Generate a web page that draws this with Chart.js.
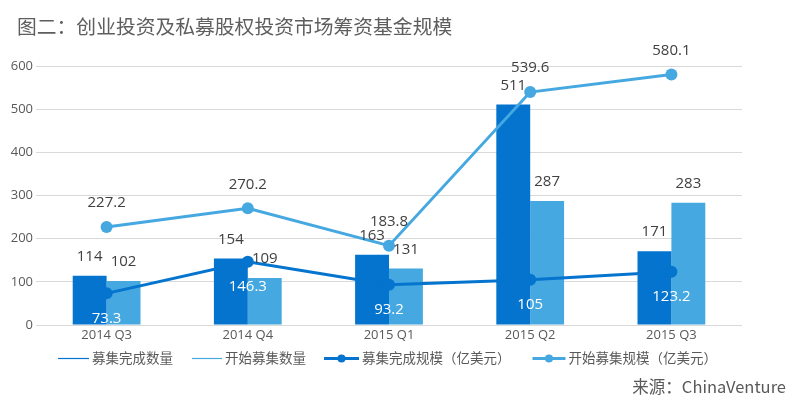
<!DOCTYPE html>
<html>
<head>
<meta charset="utf-8">
<script src="https://cdn.jsdelivr.net/npm/chart.js@4.4.0/dist/chart.umd.min.js"></script>
<style>
html,body{margin:0;padding:0;background:#fff;}
#wrap{width:800px;height:408px;position:relative;}
</style>
</head>
<body>
<div id="wrap"><canvas id="c" width="800" height="408"></canvas></div>
<script>
const categories = ['2014 Q3', '2014 Q4', '2015 Q1', '2015 Q2', '2015 Q3'];
const completedCount = [114, 154, 163, 511, 171];
const startedCount = [102, 109, 131, 287, 283];
const completedSize = [73.3, 146.3, 93.2, 105, 123.2];
const startedSize = [227.2, 270.2, 183.8, 539.6, 580.1];
const yTicks = [0, 100, 200, 300, 400, 500, 600];
const seriesNames = ['募集完成数量', '开始募集数量', '募集完成规模（亿美元）', '开始募集规模（亿美元）'];
const titleText = '图二：创业投资及私募股权投资市场筹资基金规模';
const sourceText = '来源：ChinaVenture';

const DARK = '#0474CE';
const LIGHT = '#45A8E0';
const FONT = "'Open Sans','Noto Sans CJK SC',sans-serif";
const CJK = "'Noto Sans CJK SC','Open Sans',sans-serif";

const labelPlugin = {
  id: 'valueLabels',
  afterDatasetsDraw(chart) {
    const ctx = chart.ctx;
    ctx.save();
    ctx.textAlign = 'center';
    ctx.textBaseline = 'middle';
    ctx.font = "15px " + FONT;
    chart.data.datasets.forEach((ds, i) => {
      const meta = chart.getDatasetMeta(i);
      meta.data.forEach((el, j) => {
        const v = ds.data[j];
        let y, col;
        if (ds.labelMode === 'bar') { y = el.y - 19; col = '#404040'; }
        else if (ds.labelMode === 'below') { y = el.y + 25; col = '#ffffff'; }
        else { y = el.y - 24; col = '#404040'; }
        ctx.fillStyle = col;
        ctx.fillText(String(v), el.x, y);
      });
    });
    ctx.restore();
  }
};

const textPlugin = {
  id: 'texts',
  afterDraw(chart) {
    const ctx = chart.ctx;
    ctx.save();
    ctx.fillStyle = '#5E5E5E';
    ctx.textBaseline = 'middle';
    ctx.textAlign = 'left';
    ctx.font = "19.8px " + CJK;
    ctx.fillText(titleText, 17, 26);

    // legend
    const ly = 358;
    let x = 58;
    const gaps = [19, 18, 22, 0];
    const lens = [31, 30, 35, 33];
    ctx.font = "13.5px " + CJK;
    chart.data.datasets.forEach((ds, i) => {
      const isLine = ds.type === 'line';
      const col = isLine ? ds.borderColor : ds.backgroundColor;
      ctx.strokeStyle = col;
      ctx.lineWidth = isLine ? 3 : 1.2;
      ctx.beginPath();
      ctx.moveTo(x, ly + 0.5); ctx.lineTo(x + lens[i], ly + 0.5);
      ctx.stroke();
      if (isLine) {
        ctx.fillStyle = col;
        ctx.beginPath(); ctx.arc(x + lens[i] / 2, ly + 0.5, 4, 0, Math.PI * 2); ctx.fill();
      }
      x += lens[i] + 3;
      ctx.fillStyle = '#595959';
      ctx.textAlign = 'left';
      ctx.fillText(ds.label, x, ly);
      x += ctx.measureText(ds.label).width + gaps[i];
    });

    ctx.fillStyle = '#595959';
    ctx.textAlign = 'right';
    ctx.font = "16.5px " + CJK;
    ctx.fillText(sourceText, 786, 387);
    ctx.restore();
  }
};

new Chart(document.getElementById('c'), {
  data: {
    labels: categories,
    datasets: [
      { type: 'bar', label: seriesNames[0], data: completedCount, backgroundColor: DARK, borderColor: DARK, order: 2,
        categoryPercentage: 0.48, barPercentage: 1.0, labelMode: 'bar' },
      { type: 'bar', label: seriesNames[1], data: startedCount, backgroundColor: LIGHT, borderColor: LIGHT, order: 2,
        categoryPercentage: 0.48, barPercentage: 1.0, labelMode: 'bar' },
      { type: 'line', label: seriesNames[2], data: completedSize, borderColor: DARK, backgroundColor: DARK,
        borderWidth: 3, pointRadius: 6, pointHoverRadius: 6, pointBorderWidth: 0, order: 1, labelMode: 'below', tension: 0 },
      { type: 'line', label: seriesNames[3], data: startedSize, borderColor: LIGHT, backgroundColor: LIGHT,
        borderWidth: 3, pointRadius: 6, pointHoverRadius: 6, pointBorderWidth: 0, order: 0, labelMode: 'above', tension: 0 }
    ]
  },
  options: {
    responsive: false,
    animation: false,
    devicePixelRatio: 1,
    layout: { padding: { top: 66, right: 58, bottom: 63, left: 0 } },
    scales: {
      x: {
        grid: { display: false, drawTicks: false },
        border: { display: false },
        ticks: { color: '#595959', font: { family: FONT, size: 13 }, padding: 2 },
        afterFit(s) { s.height = 20; }
      },
      y: {
        min: 0, max: 600,
        afterBuildTicks(s) { s.ticks = yTicks.map(v => ({ value: v })); },
        grid: { color: '#D9D9D9', lineWidth: 1, drawTicks: false },
        border: { display: false },
        ticks: { color: '#595959', font: { family: FONT, size: 13 }, padding: 3 },
        afterFit(s) { s.width = 36; }
      }
    },
    plugins: {
      tooltip: { enabled: false },
      legend: { display: false }
    }
  },
  plugins: [labelPlugin, textPlugin]
});
</script>
</body>
</html>
